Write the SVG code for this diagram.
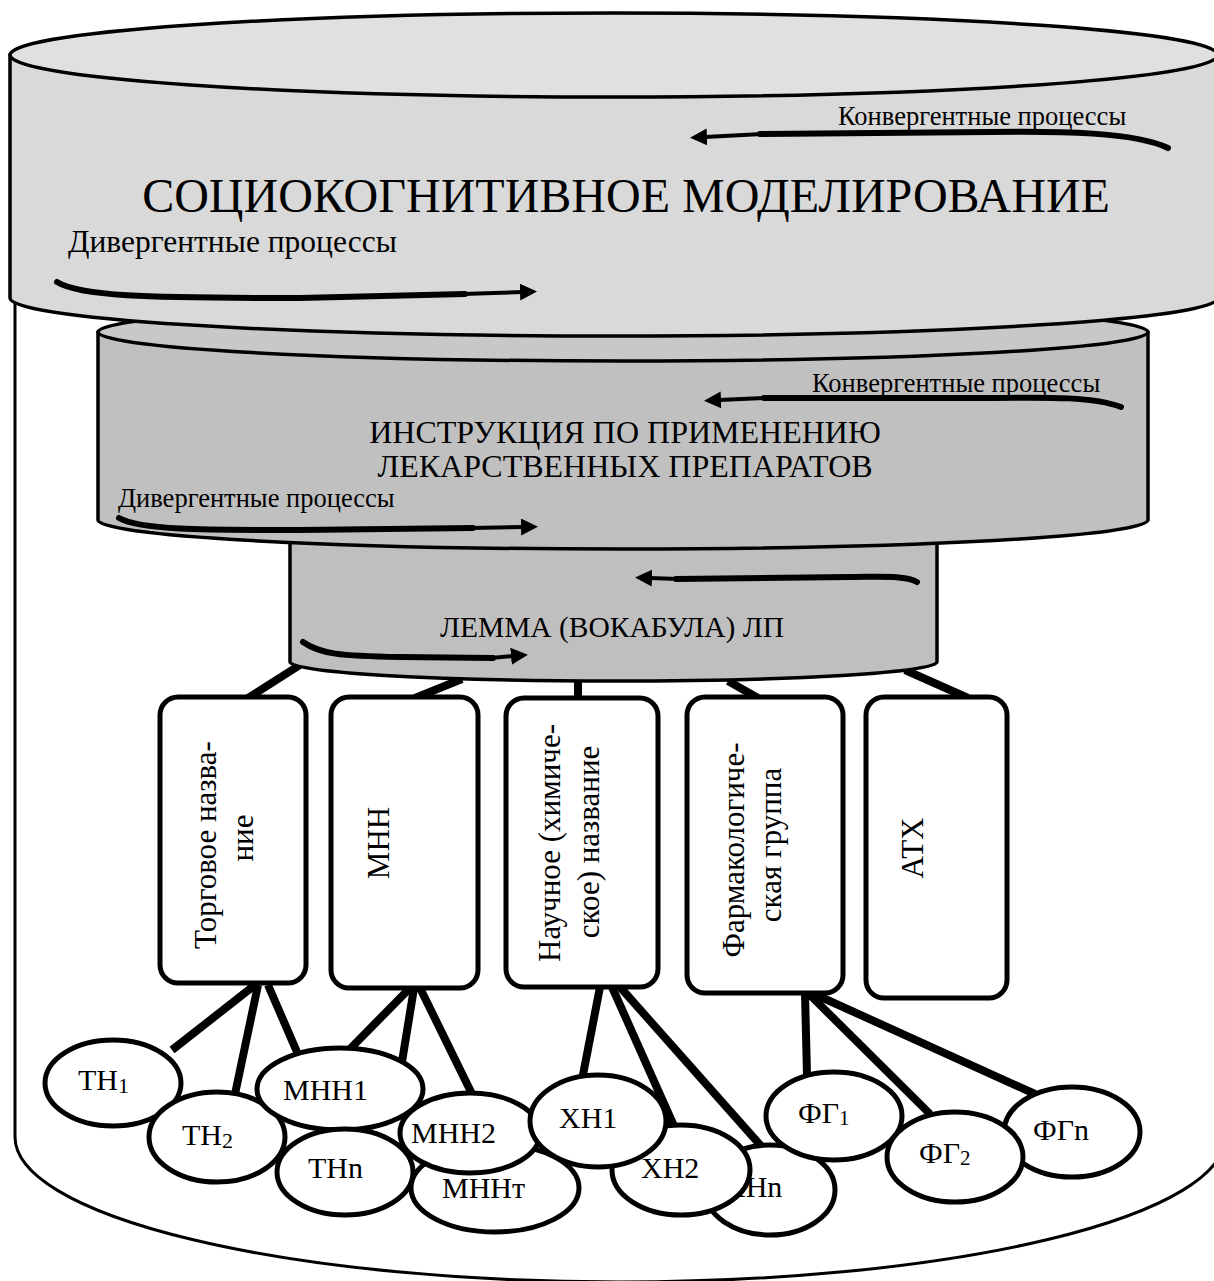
<svg xmlns="http://www.w3.org/2000/svg" width="1214" height="1281" viewBox="0 0 1214 1281">
  <style>
    text { font-family: "Liberation Serif", "Times New Roman", serif; fill: #000; }
    .cyl { stroke: #000; stroke-width: 3.5; stroke-linejoin: round; }
    .box { fill: #fff; stroke: #000; stroke-width: 5; }
    .ell { fill: #fff; stroke: #000; stroke-width: 5; }
    .link { stroke: #000; stroke-width: 8; fill: none; }
    .tail { fill: none; stroke: #000; stroke-width: 6; stroke-linecap: round; }
    .head { fill: none; stroke: #000; stroke-width: 4; marker-end: url(#ah); }
    .lbl { font-size: 30px; }
    .rot { font-size: 31px; text-anchor: middle; }
  </style>
  <defs>
    <marker id="ah" markerUnits="userSpaceOnUse" markerWidth="18" markerHeight="18" refX="2" refY="8.5" orient="auto">
      <path d="M0,0 L17,8.5 L0,17 Z" fill="#000"/>
    </marker>
  </defs>

  <rect width="1214" height="1281" fill="#fff"/>

  <!-- outer container -->
  <g id="container">
    <path d="M15,298 V1137 A605,145 0 0 0 1225,1137 V298" fill="#fff" stroke="#000" stroke-width="3"/>
  </g>

  <!-- connectors -->
  <g id="connectors">
    <line class="link" x1="303" y1="663" x2="248" y2="698"/>
    <line class="link" x1="462" y1="679" x2="415" y2="698"/>
    <line class="link" x1="578" y1="678" x2="578" y2="698"/>
    <line class="link" x1="728" y1="681" x2="758" y2="698"/>
    <line class="link" x1="905" y1="670" x2="968" y2="698"/>

    <line class="link" x1="255" y1="985" x2="172" y2="1050"/>
    <line class="link" x1="258" y1="985" x2="235" y2="1094"/>
    <line class="link" x1="268" y1="985" x2="297" y2="1052"/>

    <line class="link" x1="410" y1="988" x2="345" y2="1054"/>
    <line class="link" x1="414" y1="988" x2="401" y2="1068"/>
    <line class="link" x1="420" y1="988" x2="473" y2="1096"/>

    <line class="link" x1="600" y1="987" x2="582" y2="1080"/>
    <line class="link" x1="612" y1="987" x2="674" y2="1126"/>
    <line class="link" x1="620" y1="987" x2="762" y2="1147"/>

    <line class="link" x1="805" y1="993" x2="807" y2="1075"/>
    <line class="link" x1="808" y1="993" x2="930" y2="1114"/>
    <line class="link" x1="812" y1="993" x2="1035" y2="1094"/>
  </g>

  <!-- level 3: lemma -->
  <g id="lemma">
    <path class="cyl" d="M290,535 V662 A323.5,19 0 0 0 937,662 V535 Z" fill="#bfbfbf"/>
    <ellipse class="cyl" cx="613.5" cy="535" rx="323.5" ry="12" fill="#c6c6c6"/>
    <text x="612" y="637" font-size="29.5" text-anchor="middle">ЛЕММА (ВОКАБУЛА) ЛП</text>
    <path class="tail" d="M917,582 C905,575 880,577 850,577 L676,579"/>
    <path class="head" d="M678,579 L650,578"/>
    <path class="tail" d="M303,642 C320,654 340,656 400,657 L493,658"/>
    <path class="head" d="M491,658 L513,656"/>
  </g>

  <!-- level 2: instruction -->
  <g id="instruction">
    <path class="cyl" d="M98,332 V520 A525,29 0 0 0 1148,520 V332 Z" fill="#c0c0c0"/>
    <ellipse class="cyl" cx="623" cy="332" rx="525" ry="29" fill="#c8c8c8"/>
    <text x="625" y="443" font-size="32" text-anchor="middle">ИНСТРУКЦИЯ ПО ПРИМЕНЕНИЮ</text>
    <text x="625" y="477" font-size="32" text-anchor="middle">ЛЕКАРСТВЕННЫХ ПРЕПАРАТОВ</text>
    <text x="812" y="392" font-size="26.5">Конвергентные процессы</text>
    <path class="tail" d="M1121,407 C1095,397 1050,397 992,398 L764,398"/>
    <path class="head" d="M766,398 L719,400"/>
    <text x="118" y="507" font-size="26.5">Дивергентные процессы</text>
    <path class="tail" d="M119,518 C140,530 200,530 300,530 L473,528"/>
    <path class="head" d="M471,528 L523,527"/>
  </g>

  <!-- level 1: sociocognitive modelling -->
  <g id="modelling">
    <path class="cyl" d="M10,55 V298 A604,38 0 0 0 1218,298 V55 Z" fill="#d9d9d9"/>
    <ellipse class="cyl" cx="614" cy="55" rx="604" ry="42" fill="#e0e0e0"/>
    <text x="626" y="212" font-size="48" text-anchor="middle">СОЦИОКОГНИТИВНОЕ МОДЕЛИРОВАНИЕ</text>
    <text x="838" y="125" font-size="26.5">Конвергентные процессы</text>
    <path class="tail" d="M1168,148 C1135,132 1060,131 990,132 L760,134"/>
    <path class="head" d="M762,134 L705,137"/>
    <text x="68" y="252" font-size="31.5">Дивергентные процессы</text>
    <path class="tail" d="M57,282 C80,296 140,298 300,298 L465,294"/>
    <path class="head" d="M463,294 L522,292"/>
  </g>

  <!-- name categories -->
  <g id="box-trade">
    <rect class="box" x="160" y="697" width="146" height="286" rx="18"/>
    <text class="rot" transform="translate(216,845) rotate(-90)">Торговое назва-</text>
    <text class="rot" transform="translate(253,838) rotate(-90)">ние</text>
  </g>
  <g id="box-inn">
    <rect class="box" x="331" y="697" width="147" height="291" rx="18"/>
    <text class="rot" transform="translate(389,843) rotate(-90)">МНН</text>
  </g>
  <g id="box-chem">
    <rect class="box" x="506" y="698" width="152" height="289" rx="18"/>
    <text class="rot" transform="translate(560,843) rotate(-90)">Научное (химиче-</text>
    <text class="rot" transform="translate(599,842) rotate(-90)">ское) название</text>
  </g>
  <g id="box-pharm">
    <rect class="box" x="687" y="697" width="156" height="296" rx="18"/>
    <text class="rot" transform="translate(744,850) rotate(-90)">Фармакологиче-</text>
    <text class="rot" transform="translate(781,845) rotate(-90)">ская группа</text>
  </g>
  <g id="box-atc">
    <rect class="box" x="866" y="697" width="141" height="301" rx="18"/>
    <text class="rot" transform="translate(923,848) rotate(-90)">АТХ</text>
  </g>

  <!-- instances -->
  <g id="th1"><ellipse class="ell" cx="113" cy="1083" rx="68" ry="43"/><text class="lbl" x="78" y="1090">ТН<tspan font-size="22" dy="3">1</tspan></text></g>
  <g id="th2"><ellipse class="ell" cx="217" cy="1137" rx="68" ry="45"/><text class="lbl" x="182" y="1145">ТН<tspan font-size="22" dy="3">2</tspan></text></g>
  <g id="mnn1"><ellipse class="ell" cx="340" cy="1089" rx="83" ry="41"/><text class="lbl" x="283" y="1100">МНН1</text></g>
  <g id="mnnt"><ellipse class="ell" cx="495" cy="1188" rx="84" ry="44"/><text class="lbl" x="442" y="1198">МННт</text></g>
  <g id="mnn2"><ellipse class="ell" cx="470" cy="1133" rx="70" ry="40"/><text class="lbl" x="411" y="1143">МНН2</text></g>
  <g id="thn"><ellipse class="ell" cx="345" cy="1172" rx="68" ry="43"/><text class="lbl" x="308" y="1178">ТНn</text></g>
  <g id="xhn"><ellipse class="ell" cx="770" cy="1190" rx="65" ry="45"/><text class="lbl" x="724" y="1197">ХНn</text></g>
  <g id="xh2"><ellipse class="ell" cx="681" cy="1170" rx="69" ry="45"/><text class="lbl" x="641" y="1178">ХН2</text></g>
  <g id="xh1"><ellipse class="ell" cx="598" cy="1121" rx="68" ry="46"/><text class="lbl" x="559" y="1128">ХН1</text></g>
  <g id="fg1"><ellipse class="ell" cx="834" cy="1116" rx="68" ry="44"/><text class="lbl" x="798" y="1123">ФГ<tspan font-size="21" dy="2">1</tspan></text></g>
  <g id="fgn"><ellipse class="ell" cx="1072" cy="1132" rx="68" ry="45"/><text class="lbl" x="1033" y="1140">ФГn</text></g>
  <g id="fg2"><ellipse class="ell" cx="955" cy="1157" rx="68" ry="45"/><text class="lbl" x="919" y="1163">ФГ<tspan font-size="21" dy="2">2</tspan></text></g>
</svg>
